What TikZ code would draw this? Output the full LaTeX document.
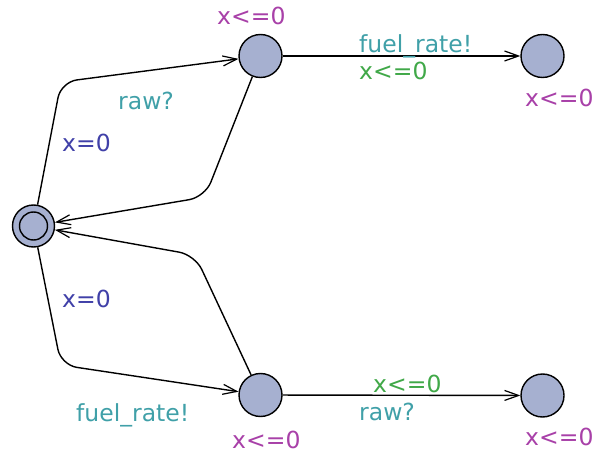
\documentclass[tikz,border=0pt]{standalone}
\usepackage{fontspec}
\setmainfont{DejaVu Sans}
\usetikzlibrary{arrows.meta}
\definecolor{locfill}{RGB}{166,176,208}
\definecolor{invcol}{RGB}{168,64,168}
\definecolor{synccol}{RGB}{64,160,168}
\definecolor{guardcol}{RGB}{64,168,72}
\definecolor{assigncol}{RGB}{64,64,168}
\tikzset{
  loc/.style={circle,draw=black,line width=1.4pt,fill=locfill,minimum size=43pt,inner sep=0pt},
  edge/.style={line width=1.4pt,-{Straight Barb[length=14pt,width=10pt,line width=1.2pt]}},
  lbl/.style={anchor=base west,inner sep=0pt,font=\fontsize{23.5}{28}\selectfont},
  inv/.style={lbl,text=invcol},
  sync/.style={lbl,text=synccol},
  guard/.style={lbl,text=guardcol},
  assign/.style={lbl,text=assigncol}
}
\begin{document}
\begin{tikzpicture}[x=1pt,y=-1pt]
\useasboundingbox (0,0) rectangle (594,454);
\node[loc,minimum size=42pt] (I) at (33.5,226) {};
\node[circle,draw=black,line width=1.4pt,minimum size=28pt,inner sep=0pt] (Iin) at (33.5,226) {};
\node[loc] (A) at (260.5,56) {};
\node[loc] (B) at (542.5,56) {};
\node[loc] (C) at (260.5,395) {};
\node[loc] (D) at (542.5,395.5) {};
\coordinate (c1) at (61,82);
\coordinate (c2) at (205,197);
\coordinate (c3) at (61,365);
\coordinate (c4) at (195,255);
\draw[edge,rounded corners=16pt] (I) -- (c1) -- (A);
\draw[edge,rounded corners=16pt] (A) -- (c2) -- (I);
\draw[edge,rounded corners=16pt] (I) -- (c3) -- (C);
\draw[edge,rounded corners=16pt] (C) -- (c4) -- (I);
\draw[edge] (A) -- (B);
\draw[edge] (C) -- (D);
\node[inv] (iA) at (217,25) {x<=0};
\node[inv] (iB) at (525,107) {x<=0};
\node[inv] (iC) at (232,448) {x<=0};
\node[inv] (iD) at (525,445) {x<=0};
\node[sync] (s1) at (118,110) {raw?};
\node[assign] (a1) at (62,152) {x=0};
\node[sync] (s2) at (359,53) {fuel\_rate!};
\node[guard] (g2) at (359,80) {x<=0};
\node[assign] (a3) at (62,307) {x=0};
\node[sync] (s3) at (76,421) {fuel\_rate!};
\node[guard] (g4) at (373,392) {x<=0};
\node[sync] (s4) at (359,420) {raw?};
\end{tikzpicture}
\end{document}
